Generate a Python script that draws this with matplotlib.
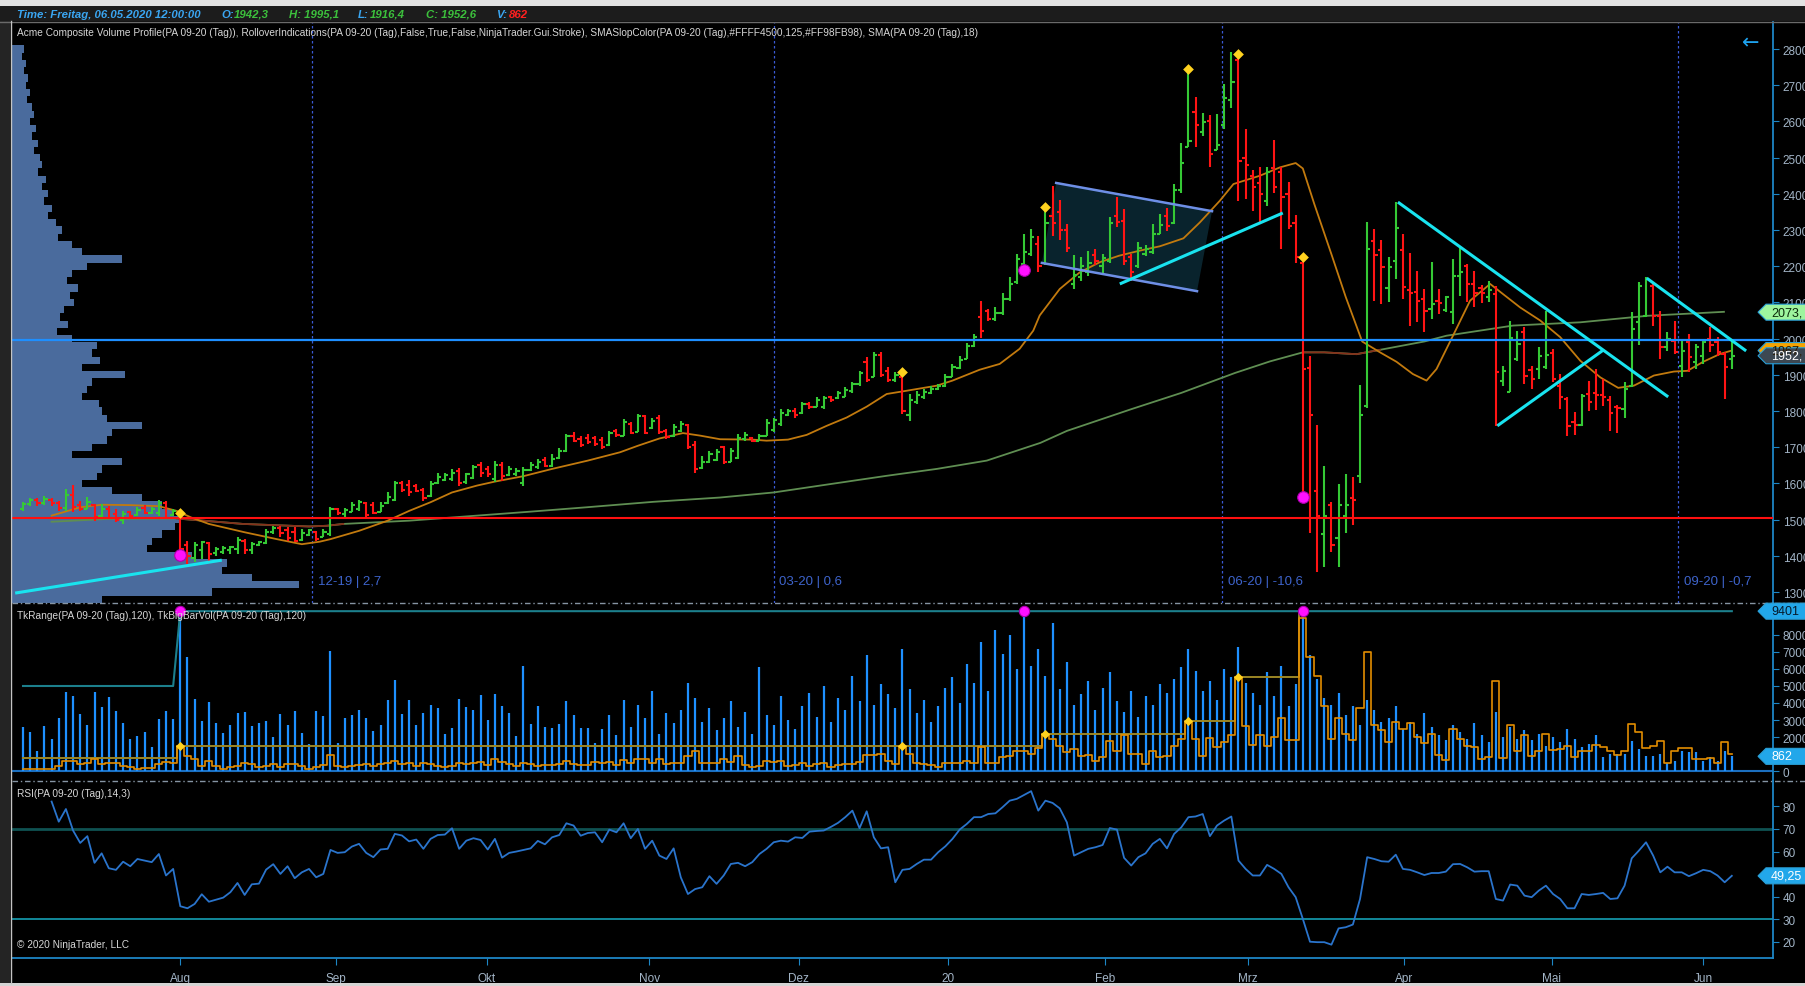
import numpy as np
import matplotlib
matplotlib.use("Agg")
import matplotlib.pyplot as plt
from matplotlib.patches import Polygon, Rectangle
from matplotlib.transforms import IdentityTransform
from matplotlib.lines import Line2D

plt.rcParams['font.family'] = ['Liberation Sans Narrow', 'Liberation Sans', 'DejaVu Sans']

# ---------------- data (daily bars, PA 09-20) ----------------
opens = [1530, 1542, 1555, 1545, 1555, 1545, 1532, 1568, 1540, 1530,
         1540, 1510, 1530, 1515, 1498, 1520, 1512, 1532, 1518, 1518,
         1545, 1512, 1515, 1430, 1395, 1415, 1435, 1408, 1410, 1415,
         1418, 1440, 1415, 1430, 1435, 1465, 1478, 1470, 1465, 1445,
         1458, 1465, 1452, 1460, 1528, 1515, 1522, 1530, 1545, 1540,
         1522, 1545, 1555, 1600, 1595, 1592, 1582, 1565, 1600, 1610,
         1612, 1635, 1605, 1615, 1652, 1640, 1612, 1650, 1622, 1625,
         1600, 1638, 1645, 1665, 1648, 1670, 1690, 1730, 1722, 1725,
         1725, 1720, 1705, 1745, 1732, 1765, 1742, 1785, 1752, 1780,
         1745, 1730, 1745, 1760, 1705, 1642, 1658, 1665, 1700, 1660,
         1670, 1722, 1726, 1718, 1732, 1748, 1765, 1790, 1800, 1795,
         1820, 1812, 1810, 1838, 1835, 1840, 1855, 1875, 1935, 1895,
         1955, 1910, 1885, 1895, 1790, 1825, 1838, 1850, 1862, 1868,
         1895, 1920, 1945, 1980, 2060, 2075, 2055, 2070, 2110, 2155,
         2205, 2235, 2260, 2210, 2340, 2350, 2300, 2150, 2170, 2185,
         2230, 2200, 2215, 2340, 2325, 2225, 2200, 2235, 2240, 2290,
         2340, 2320, 2410, 2530, 2625, 2570, 2600, 2522, 2590, 2660,
         2770, 2500, 2450, 2430, 2380, 2470, 2460, 2400, 2320, 2210,
         1920, 1580, 1460, 1540, 1450, 1510, 1560, 1620, 1815, 2270,
         2245, 2139, 2215, 2246, 2135, 2128, 2110, 2082, 2105, 2080,
         2073, 2174, 2200, 2150, 2140, 2115, 2123, 1884, 1852, 1944,
         2019, 1912, 1916, 1921, 1960, 1870, 1833, 1770, 1761, 1847,
         1850, 1845, 1830, 1810, 1806, 1870, 2045, 2063, 2146, 2063,
         1976, 1994, 1925, 1990, 1936, 1953, 1999, 1990, 1958, 1942.3]
highs = [1548, 1561, 1561, 1566, 1561, 1552, 1584, 1595, 1552, 1563,
         1543, 1543, 1538, 1529, 1525, 1525, 1534, 1540, 1534, 1555,
         1552, 1529, 1517, 1442, 1437, 1442, 1437, 1423, 1428, 1428,
         1451, 1446, 1437, 1442, 1474, 1483, 1483, 1479, 1479, 1474,
         1474, 1469, 1474, 1534, 1531, 1531, 1549, 1555, 1549, 1549,
         1548, 1575, 1607, 1607, 1610, 1598, 1586, 1607, 1629, 1629,
         1640, 1642, 1630, 1651, 1660, 1649, 1663, 1658, 1649, 1642,
         1644, 1658, 1667, 1672, 1681, 1699, 1736, 1743, 1732, 1736,
         1732, 1727, 1745, 1750, 1778, 1769, 1792, 1790, 1782, 1789,
         1750, 1764, 1773, 1764, 1718, 1676, 1690, 1695, 1704, 1699,
         1736, 1741, 1727, 1736, 1778, 1782, 1805, 1805, 1807, 1826,
         1824, 1838, 1842, 1842, 1856, 1865, 1881, 1911, 1948, 1962,
         1964, 1921, 1907, 1897, 1847, 1856, 1861, 1870, 1874, 1902,
         1930, 1951, 1988, 2013, 2105, 2082, 2086, 2125, 2169, 2235,
         2288, 2302, 2283, 2362, 2421, 2383, 2317, 2230, 2225, 2243,
         2248, 2235, 2337, 2391, 2357, 2233, 2268, 2258, 2317, 2344,
         2362, 2426, 2539, 2742, 2668, 2623, 2618, 2620, 2702, 2791,
         2786, 2579, 2465, 2475, 2475, 2549, 2475, 2433, 2342, 2220,
         1952, 1760, 1649, 1548, 1597, 1627, 1617, 1873, 2322, 2303,
         2271, 2225, 2378, 2289, 2237, 2188, 2137, 2211, 2137, 2119,
         2220, 2257, 2206, 2188, 2148, 2160, 2146, 1925, 2050, 2022,
         2031, 1925, 1976, 2077, 1971, 1902, 1838, 1796, 1847, 1884,
         1916, 1888, 1842, 1817, 1879, 2073, 2156, 2169, 2151, 2077,
         2017, 2050, 1999, 2013, 1985, 1994, 2031, 2004, 1962, 1995.1]
lows = [1525, 1538, 1538, 1540, 1538, 1525, 1525, 1520, 1525, 1529,
        1497, 1506, 1502, 1492, 1488, 1506, 1511, 1515, 1515, 1511,
        1502, 1511, 1400, 1377, 1382, 1391, 1386, 1400, 1405, 1405,
        1405, 1405, 1405, 1428, 1433, 1460, 1451, 1442, 1437, 1442,
        1455, 1442, 1451, 1455, 1513, 1506, 1520, 1525, 1506, 1515,
        1520, 1543, 1552, 1575, 1566, 1575, 1552, 1562, 1598, 1607,
        1607, 1594, 1598, 1612, 1617, 1617, 1603, 1607, 1621, 1621,
        1594, 1635, 1640, 1644, 1644, 1667, 1686, 1713, 1700, 1709,
        1704, 1695, 1704, 1727, 1730, 1736, 1741, 1736, 1750, 1736,
        1723, 1727, 1741, 1695, 1630, 1640, 1656, 1663, 1653, 1658,
        1667, 1718, 1713, 1716, 1730, 1741, 1759, 1787, 1782, 1793,
        1805, 1810, 1805, 1824, 1833, 1838, 1851, 1870, 1879, 1893,
        1893, 1879, 1879, 1792, 1773, 1819, 1833, 1847, 1858, 1865,
        1893, 1916, 1944, 1976, 2003, 2049, 2049, 2066, 2105, 2150,
        2199, 2229, 2184, 2204, 2283, 2273, 2238, 2137, 2160, 2174,
        2204, 2179, 2209, 2307, 2204, 2160, 2194, 2229, 2233, 2288,
        2298, 2317, 2401, 2529, 2529, 2559, 2475, 2520, 2579, 2638,
        2381, 2386, 2352, 2322, 2367, 2401, 2248, 2302, 2209, 1563,
        1464, 1355, 1370, 1410, 1370, 1464, 1484, 1602, 1809, 2105,
        2096, 2100, 2165, 2109, 2036, 2045, 2017, 2054, 2068, 2073,
        2040, 2119, 2100, 2086, 2098, 2100, 1759, 1870, 1852, 1939,
        1875, 1861, 1888, 1916, 1879, 1806, 1730, 1734, 1759, 1801,
        1804, 1815, 1746, 1739, 1782, 1865, 1981, 2059, 2036, 1944,
        1967, 1957, 1893, 1907, 1916, 1930, 1962, 1953, 1833, 1916.4]
closes = [1542, 1555, 1545, 1558, 1545, 1532, 1568, 1535, 1530, 1548,
          1508, 1530, 1505, 1500, 1516, 1510, 1526, 1518, 1530, 1545,
          1505, 1525, 1420, 1400, 1430, 1438, 1405, 1420, 1422, 1425,
          1445, 1415, 1432, 1438, 1465, 1478, 1462, 1450, 1442, 1462,
          1470, 1446, 1465, 1528, 1518, 1526, 1540, 1548, 1512, 1518,
          1538, 1562, 1600, 1582, 1575, 1580, 1560, 1598, 1618, 1622,
          1630, 1600, 1625, 1645, 1630, 1625, 1650, 1620, 1640, 1635,
          1638, 1652, 1660, 1648, 1668, 1690, 1730, 1718, 1705, 1715,
          1710, 1700, 1738, 1735, 1770, 1740, 1785, 1740, 1772, 1742,
          1728, 1755, 1765, 1700, 1640, 1658, 1680, 1688, 1660, 1690,
          1725, 1735, 1718, 1730, 1768, 1775, 1795, 1800, 1788, 1818,
          1810, 1830, 1835, 1830, 1850, 1858, 1875, 1905, 1885, 1955,
          1900, 1885, 1900, 1800, 1830, 1845, 1852, 1862, 1868, 1895,
          1922, 1940, 1980, 2005, 2020, 2055, 2070, 2110, 2150, 2220,
          2240, 2280, 2200, 2320, 2320, 2300, 2250, 2175, 2200, 2210,
          2215, 2222, 2320, 2322, 2215, 2185, 2250, 2248, 2290, 2315,
          2310, 2410, 2485, 2545, 2590, 2598, 2510, 2535, 2665, 2710,
          2490, 2480, 2420, 2400, 2460, 2420, 2390, 2310, 2225, 1915,
          1790, 1510, 1510, 1430, 1540, 1540, 1555, 1790, 2248, 2230,
          2197, 2197, 2305, 2142, 2125, 2105, 2077, 2096, 2098, 2114,
          2172, 2185, 2151, 2125, 2125, 2135, 1909, 1911, 2001, 1985,
          1898, 1888, 1953, 1956, 1888, 1838, 1758, 1760, 1842, 1826,
          1843, 1838, 1794, 1807, 1861, 2027, 2146, 2165, 2063, 1976,
          1999, 1962, 1967, 1948, 1976, 1990, 1982, 1962, 1921, 1952.6]

volume = [2570, 2270, 1160, 2630, 1880, 3120, 4630, 4390, 3330, 2720,
          4630, 3740, 4330, 3550, 2800, 1880, 2080, 2270, 1430, 3060,
          3510, 3060, 9401, 6700, 4230, 2960, 4040, 2800, 2230, 2700,
          3410, 3450, 2630, 2820, 2960, 1980, 3330, 2700, 3510, 2230,
          1570, 3510, 3210, 7060, 1670, 3120, 3270, 3570, 3120, 2350,
          2690, 4190, 5370, 3350, 4190, 2720, 3390, 3900, 3680, 2180,
          2510, 4250, 3740, 3570, 4470, 3020, 4510, 3800, 3390, 2060,
          6150, 2780, 3840, 2570, 2510, 2780, 4120, 3270, 2510, 2510,
          1630, 2500, 3300, 2100, 4200, 2600, 3900, 3100, 4700, 2200,
          3400, 2800, 3600, 5200, 4300, 2900, 3700, 2400, 3100, 4100,
          2600, 3500, 2200, 6100, 3300, 2700, 4400, 3000, 2500, 3800,
          4600, 3200, 5000, 2900, 4300, 3600, 5600, 4100, 6800, 3900,
          5100, 4500, 3700, 7200, 4800, 3400, 4200, 2900, 3800, 4900,
          5500, 4000, 6300, 5200, 7600, 4700, 8300, 6900, 8000, 6000,
          9401, 6200, 7200, 5600, 8700, 4800, 6400, 3900, 4500, 5300,
          3600, 4900, 5800, 4100, 3500, 4700, 3200, 4400, 3900, 5100,
          4600, 5400, 6100, 7200, 5900, 4700, 5300, 4200, 6000, 5500,
          7300, 5200, 4600, 3900, 5800, 4400, 6200, 3800, 5100, 9401,
          6800, 5400, 4300, 3900, 4600, 3300, 3800, 2700, 4200, 3600,
          2900, 3100, 3800, 2500, 2900, 2200, 3400, 2600, 2100, 1800,
          2700, 2300, 1900, 2800, 2100, 1700, 3500, 2000, 2600, 1900,
          2400, 1800, 2200, 1500, 2000, 1700, 2500, 1900, 1400, 1600,
          2100, 840, 1000, 1000, 1000, 1790, 1300, 870, 870, 1000,
          450, 600, 1180, 1100, 1100, 600, 840, 600, 1180, 862]

tk_range = [120, 120, 120, 120, 120, 310, 600, 600, 400, 500,
            700, 400, 500, 470, 310, 215, 120, 160, 160, 400,
            550, 500, 1490, 900, 700, 310, 600, 310, 120, 215,
            310, 500, 400, 215, 310, 400, 215, 400, 400, 310,
            120, 215, 350, 960, 310, 215, 310, 350, 400, 310,
            400, 500, 600, 400, 500, 310, 500, 400, 310, 215,
            310, 500, 400, 500, 550, 350, 700, 550, 400, 310,
            500, 400, 310, 350, 350, 400, 600, 400, 350, 350,
            550, 450, 550, 350, 650, 450, 700, 700, 450, 700,
            400, 500, 450, 900, 1200, 500, 450, 450, 700, 550,
            900, 350, 250, 300, 600, 550, 600, 300, 350, 450,
            300, 400, 500, 250, 350, 400, 400, 550, 950, 950,
            1000, 600, 400, 1450, 1000, 500, 400, 350, 250, 500,
            500, 500, 600, 500, 1400, 450, 500, 800, 900, 1150,
            1200, 1000, 1350, 2150, 1900, 1500, 1100, 1300, 900, 950,
            600, 800, 1750, 1150, 2100, 1000, 1000, 400, 1150, 800,
            900, 1500, 1900, 2900, 1900, 900, 1950, 1400, 1700, 2100,
            5500, 2650, 1550, 2100, 1500, 2000, 3100, 1800, 1800, 9000,
            6700, 5600, 3800, 1900, 3100, 2200, 1800, 3700, 7000, 2700,
            2400, 1700, 2900, 2500, 2800, 2000, 1650, 2200, 950, 650,
            2500, 1900, 1450, 1400, 700, 800, 5300, 750, 2700, 1150,
            2100, 900, 1200, 2200, 1250, 1300, 1500, 850, 1200, 1150,
            1550, 1400, 1150, 930, 1180, 2780, 2300, 1350, 1500, 1760,
            500, 1150, 1350, 1350, 730, 690, 780, 470, 1720, 1000]

# big-bar level (step, ends at the crash bar) and the 120-bar volume ceiling
big_bar_start = [0, 22, 143, 163, 170, 179]
big_bar_level = [745, 1490, 2150, 2950, 5500, 9401]
big_bar_end = 179
big_bar_marks = [22, 123, 143, 163, 170]
vol_max_x = [0, 21, 22, 239]
vol_max_v = [5000, 5000, 9401, 9401]
vol_top_marks = [22, 140, 179]

rsi_first = 4
rsi = [82.1, 73.2, 78.8, 69.3, 63.8, 66.8, 55, 59.2, 52.6, 51.9,
       55.5, 53.5, 56.7, 56, 55.3, 58.9, 49.4, 52.3, 35.8, 34.9,
       36.8, 41.1, 37.8, 38.7, 39.6, 42, 46.1, 40.8, 45.5, 45.8,
       52, 54.4, 50.1, 53.5, 48.2, 50.8, 52.3, 48.6, 50.1, 60.7,
       59.4, 59.7, 62.2, 63.4, 59.4, 57.5, 60.9, 61.2, 67.8, 67.1,
       64.5, 65.3, 61.2, 65.6, 67.3, 67.5, 70.3, 61.2, 64.8, 65.9,
       65.1, 60.9, 65.6, 57.3, 59.4, 60, 60.7, 61.4, 64.7, 63.2,
       66.3, 67.3, 72.5, 71.5, 67, 68.2, 68.5, 64.1, 69.7, 68.5,
       72.5, 65.9, 70, 61.2, 64.8, 58.2, 56.7, 61.4, 48.6, 41.2,
       43.4, 44.2, 49.1, 45.7, 49.4, 54.5, 55, 53.5, 55.3, 58.9,
       61.2, 64.1, 64.8, 64.4, 66.3, 66, 68.8, 69.1, 69.3, 70.9,
       72.7, 75.2, 78.1, 70.3, 77.8, 66.3, 61.4, 61.9, 46.4, 51.9,
       52.3, 54.5, 56.4, 56.4, 59.7, 62.3, 65.6, 69.7, 72.2, 75.2,
       75.2, 76.6, 76.9, 79.6, 82.5, 83.3, 85, 86.7, 78.1, 82.5,
       81.5, 79.1, 72.9, 58.2, 59.7, 61.2, 61.9, 62.9, 70.4, 69.7,
       57.2, 53.8, 57.5, 59.2, 63.4, 65.6, 61.4, 67.8, 70.7, 75.2,
       75.5, 76.6, 66.8, 71.5, 73.7, 75.5, 56, 52.3, 49.4, 49.4,
       54.1, 52.3, 50.1, 44.2, 39.8, 30.2, 20.1, 19.9, 19.9, 18.8,
       26, 26.5, 27.7, 39, 57.5, 56.7, 55.7, 55.5, 58.6, 52.3,
       51.9, 50.8, 49.6, 50.5, 50.5, 51.1, 54.4, 54.5, 53, 51.1,
       51.3, 51.3, 39, 38.3, 45.4, 44.9, 40.5, 39.8, 42.7, 44.9,
       41.2, 39, 34.9, 34.9, 41.2, 40.8, 41.2, 41.7, 39, 39.3,
       44.9, 57, 60.4, 64.1, 58.2, 50.8, 53.3, 50.8, 50.8, 49.1,
       50.4, 51.9, 51.3, 49.4, 46.4, 49.25]

# SMA(18)
sma18_x = [4, 8, 11, 15, 19, 21.5, 23.5, 26, 31, 35.5, 39, 41.5, 43, 47, 51, 54, 57,
           60, 63.5, 66, 70, 74, 79, 83.5, 86, 89, 92.3, 94.7, 97.5, 102, 104, 107,
           109.6, 112.4, 115.2, 118, 120.8, 123.6, 127.8, 130, 133.8, 136.6, 139.4,
           141.3, 142.2, 145, 147.8, 150.6, 153.3, 156.2, 159, 162.3, 164.6, 167.4,
           169.3, 173, 175.8, 178, 179, 180.6, 183, 185, 187.3, 189.8, 192.1, 194.4,
           196.3, 197.7, 200, 202.4, 205.2, 207, 209.4, 212.2, 215, 217.8, 220.6,
           223.1, 225.3, 228.1, 230.9, 232.8, 235, 237.4, 239]
sma18_v = [1511, 1534, 1541, 1540, 1537, 1524, 1506, 1488, 1465, 1446, 1432, 1439, 1446,
           1469, 1497, 1524, 1548, 1575, 1594, 1605, 1620, 1640, 1663, 1686, 1704, 1724,
           1739, 1732, 1722, 1721, 1718, 1721, 1734, 1759, 1782, 1812, 1847, 1856, 1870,
           1884, 1914, 1930, 1972, 2022, 2064, 2137, 2183, 2211, 2229, 2243, 2255, 2277,
           2321, 2381, 2427, 2450, 2473, 2485, 2470, 2372, 2233, 2115, 1992, 1962, 1936,
           1902, 1884, 1916, 2008, 2105, 2151, 2123, 2086, 2050, 2004, 1939, 1893, 1864,
           1870, 1898, 1909, 1911, 1936, 1958, 1967]

# SMASlopColor(125); falling stretches drawn red-brown
sma125_x = [4, 12, 21.5, 30.8, 40, 42.5, 44.8, 54, 63.5, 71, 78.8, 88.1, 97.5, 105,
            111.5, 120.8, 127.8, 134.8, 142.3, 146, 155, 162, 169.5, 174.4, 179, 182,
            186.5, 189.8, 196, 199.1, 208.4, 217.8, 227.2, 237.9]
sma125_v = [1494, 1502, 1503, 1488, 1481, 1483, 1488, 1497, 1511, 1522, 1534, 1549, 1561,
            1575, 1594, 1621, 1640, 1663, 1712, 1745, 1805, 1850, 1905, 1937, 1962, 1962,
            1957, 1969, 1992, 2008, 2036, 2045, 2063, 2074]
sma125_falling = [(21.5, 44.8), (179, 189.8)]

# composite volume profile: price bins and relative volume
profile_price = list(range(1280, 2801, 20))
profile_vol = [90, 200, 287, 240, 210, 215, 180, 135, 140, 150, 163, 167, 160, 150, 130,
               100, 70, 85, 90, 110, 60, 80, 95, 100, 130, 95, 90, 87, 70, 75, 80, 113,
               70, 88, 80, 85, 60, 45, 56, 48, 52, 62, 58, 66, 55, 60, 75, 110, 70, 60,
               46, 50, 44, 36, 40, 32, 36, 30, 34, 26, 30, 28, 22, 26, 20, 24, 18, 22,
               20, 15, 18, 14, 16, 12, 14, 10, 12]

# markers
peak_marks_x = [22, 123, 143, 163, 170, 179]
peak_marks_p = [1517, 1908, 2364, 2745, 2787, 2225]
dot_marks_x = [22, 140, 179]
dot_marks_p = [1402, 2190, 1563]

# drawn objects
trend_lines = [((-1.1, 1297), (27.8, 1388)),
               ((153.4, 2151), (176.2, 2347)),
               ((192.3, 2377), (230.1, 1839)),
               ((206.2, 1759), (221.0, 1968)),
               ((227.1, 2167), (241.0, 1966))]
flag_box = [(144.5, 2430), (166.3, 2352), (164.2, 2131), (142.5, 2209)]

rollover_x = [40.4, 105.0, 167.7, 231.5]
rollover_lbl = ['12-19 | 2,7', '03-20 | 0,6', '06-20 | -10,6', '09-20 | -0,7']

month_pos = [22, 43.8, 64.9, 87.6, 108.5, 129.4, 151.3, 171.3, 193.1, 213.8, 235]
month_lbl = ['Aug', 'Sep', 'Okt', 'Nov', 'Dez', '20', 'Feb', 'Mrz', 'Apr', 'Mai', 'Jun']

# ---------------- figure ----------------
W, H = 1806, 987
fig = plt.figure(figsize=(W / 100, H / 100), dpi=100, facecolor='black')
ID = IdentityTransform()


def rect(x0, y0, x1, y1):
    return [x0 / W, 1 - y1 / H, (x1 - x0) / W, (y1 - y0) / H]


ax = fig.add_axes(rect(12, 23, 1773, 604))
axv = fig.add_axes(rect(12, 604, 1773, 782), sharex=ax)
axr = fig.add_axes(rect(12, 782, 1773, 959), sharex=ax)

AXC = '#1d86c6'
LBL = '#a3b5c7'
for a in (ax, axv, axr):
    a.set_facecolor('black')
    for s in ('top', 'left', 'bottom'):
        a.spines[s].set_visible(False)
    a.spines['right'].set_color(AXC)
    a.spines['right'].set_linewidth(1.3)
    a.yaxis.tick_right()
    a.tick_params(axis='y', colors=AXC, labelcolor=LBL, length=4, labelsize=8.5, pad=3)
    a.tick_params(axis='x', bottom=False, labelbottom=False)

ax.set_xlim(-1.54, 244.76)
ax.set_ylim(1269.6, 2874.6)
axv.set_ylim(-588, 9882)
axr.set_ylim(12.9, 91.2)

# price panel ---------------------------------------------------------
x = np.arange(len(closes))
o, hi, lo, c = map(np.array, (opens, highs, lows, closes))
cols = np.where(c >= o, '#35c935', '#ff1414')

ax.barh(profile_price, np.array(profile_vol) / 7.15, height=20, left=-1.54,
        color='#4a6b9d', edgecolor='none', zorder=0.5)

ax.add_patch(Polygon(flag_box, closed=True, fc='#0a2630', ec='none', alpha=0.95, zorder=1))
ax.plot([flag_box[0][0], flag_box[1][0]], [flag_box[0][1], flag_box[1][1]], color='#6e8fe6', lw=1.8, zorder=4)
ax.plot([flag_box[3][0], flag_box[2][0]], [flag_box[3][1], flag_box[2][1]], color='#6e8fe6', lw=1.8, zorder=4)

for rx, rl in zip(rollover_x, rollover_lbl):
    ax.axvline(rx, color='#3a5ad6', lw=0.9, ls=(0, (2, 2)), zorder=1)
    ax.text(rx + 0.8, 1330, rl, color='#3e64cc', fontsize=9.5, va='center', ha='left')

ax.plot(sma125_x, sma125_v, color='#5f8e52', lw=1.3, zorder=2)
for a0, a1 in sma125_falling:
    sx = [v for v in sma125_x if a0 <= v <= a1]
    sv = [sma125_v[i] for i, v in enumerate(sma125_x) if a0 <= v <= a1]
    ax.plot(sx, sv, color='#85301a', lw=1.3, zorder=2.1)
ax.plot(sma18_x, sma18_v, color='#c27a0e', lw=1.3, zorder=2.2)

ax.vlines(x, lo, hi, colors=cols, lw=1.5, zorder=3)
ax.hlines(o, x - 0.45, x, colors=cols, lw=1.5, zorder=3)
ax.hlines(c, x, x + 0.45, colors=cols, lw=1.5, zorder=3)

ax.axhline(1505, color='#ff1010', lw=1.5, zorder=3.5)
ax.axhline(1996, color='#1e8fff', lw=1.6, zorder=3.5)

for (x0, p0), (x1, p1) in trend_lines:
    ax.plot([x0, x1], [p0, p1], color='#19e3ef', lw=2.2, zorder=4, solid_capstyle='butt')

ax.scatter(peak_marks_x, peak_marks_p, marker='D', s=30, color='#ffd21f', zorder=5, lw=0)
ax.scatter(dot_marks_x, dot_marks_p, marker='o', s=70, color='#ff10ff', edgecolor='#b000b0', lw=0.8, zorder=5)

ax.set_yticks(range(1300, 2801, 100))
ax.set_yticklabels([f'{v},0' for v in range(1300, 2801, 100)])

# volume panel --------------------------------------------------------
axv.axhline(0, color='#1b6fbf', lw=1.5, zorder=1)
axv.vlines(x, 0, volume, colors='#1e90ff', lw=1.6, zorder=2)
bb = np.repeat(big_bar_level, np.diff(big_bar_start + [len(closes)]))
axv.step(x[:big_bar_end + 1], bb[:big_bar_end + 1], where='mid', color='#9c8624', lw=1.4, zorder=2.5)
axv.plot(vol_max_x, vol_max_v, color='#1c7f8c', lw=1.5, zorder=2.6)
axv.step(x, tk_range, where='mid', color='#e38d00', lw=1.2, zorder=3)
axv.scatter(big_bar_marks, [bb[i] for i in big_bar_marks], marker='D', s=22, color='#ffd21f', lw=0, zorder=4)
axv.scatter(vol_top_marks, [volume[i] for i in vol_top_marks], marker='o', s=55, color='#ff10ff', edgecolor='#b000b0', lw=0.8, zorder=5)
vt = list(range(0, 9001, 1000))
axv.set_yticks(vt)
axv.set_yticklabels(['' if v in (1000, 9000) else str(v) for v in vt])

# RSI panel -----------------------------------------------------------
axr.axhline(70, color='#0f5252', lw=2)
axr.axhline(30, color='#12889a', lw=1.4)
axr.plot(np.arange(rsi_first, rsi_first + len(rsi)), rsi, color='#2a74cc', lw=1.3)
rt = list(range(20, 81, 10))
axr.set_yticks(rt)
axr.set_yticklabels(['' if v == 50 else str(v) for v in rt])
axr.spines['bottom'].set_visible(True)
axr.spines['bottom'].set_color(AXC)
axr.spines['bottom'].set_linewidth(1.3)
axr.set_xticks(month_pos)
axr.set_xticklabels(month_lbl)
axr.tick_params(axis='x', bottom=True, labelbottom=True, colors=AXC, labelcolor=LBL,
                length=5, labelsize=8.5, pad=5)

# value tags on the right ---------------------------------------------
def tag(a, val, text, fc, tc):
    y = a.transData.transform((0, val))[1]
    x0 = 1758
    pts = [(x0, y), (x0 + 8, y + 8), (W + 5, y + 8), (W + 5, y - 8), (x0 + 8, y - 8)]
    fig.add_artist(Polygon(pts, closed=True, transform=ID, fc=fc, ec='#2a9fd6', lw=0.8, zorder=20))
    fig.text(x0 + 13, y, text, transform=ID, color=tc, fontsize=9, va='center', ha='left', zorder=21)


tag(ax, 2073, '2073,', '#9ef59e', '#0b2a0b')
tag(ax, 1967, '1967,', '#f5a300', '#2a1a00')
tag(ax, 1952.6, '1952,', '#3d4852', '#ffffff')
tag(axv, 9401, '9401', '#22a7ea', '#061a2a')
tag(axv, 862, '862', '#22a7ea', '#ffffff')
tag(axr, 49.25, '49,25', '#22a7ea', '#ffffff')

# window chrome -------------------------------------------------------
fig.add_artist(Rectangle((0, H - 7), W, 7, transform=ID, fc='#e2e2e2', ec='none', zorder=30))
fig.add_artist(Rectangle((0, H - 22), W, 15, transform=ID, fc='#1c1c1c', ec='none', zorder=30))
fig.add_artist(Line2D([0, W], [H - 22.5, H - 22.5], transform=ID, color='#6a6a6a', lw=1, zorder=31))
fig.add_artist(Rectangle((0, 0), 10, H - 22, transform=ID, fc='#242424', ec='none', zorder=30))
fig.add_artist(Line2D([11, 11], [3, H - 22], transform=ID, color='#c4c4c4', lw=1, zorder=31))
fig.add_artist(Rectangle((0, 0), W, 3, transform=ID, fc='#d4d4d4', ec='none', zorder=30))
for ys in (604, 782):
    fig.add_artist(Line2D([12, W], [H - ys, H - ys], transform=ID, color='#8594a3', lw=1,
                          ls=(0, (4, 2, 1, 2)), zorder=15))

hdr = [(17, 'Time: Freitag, 06.05.2020 12:00:00', '#3aa6f2'),
       (221, 'O:', '#3aa6f2'), (234, '1942,3', '#3cc13c'),
       (289, 'H: 1995,1', '#3cc13c'),
       (358, 'L:', '#3aa6f2'), (370, '1916,4', '#3cc13c'),
       (426, 'C: 1952,6', '#3cc13c'),
       (496, 'V:', '#3aa6f2'), (509, '862', '#ff2020')]
for hx, ht, hc in hdr:
    fig.text(hx, H - 15, ht, transform=ID, color=hc, fontsize=8.2, fontweight='bold',
             style='italic', va='center', ha='left', zorder=32)

fs_lbl = 7.3
fig.text(17, H - 33, 'Acme Composite Volume Profile(PA 09-20 (Tag)), RolloverIndications(PA 09-20 (Tag),'
         'False,True,False,NinjaTrader.Gui.Stroke), SMASlopColor(PA 09-20 (Tag),#FFFF4500,125,#FF98FB98), '
         'SMA(PA 09-20 (Tag),18)', transform=ID, color='#d6d6d6', fontsize=fs_lbl, va='center', zorder=16)
fig.text(17, H - 616, 'TkRange(PA 09-20 (Tag),120), TkBigBarVol(PA 09-20 (Tag),120)', transform=ID,
         color='#d6d6d6', fontsize=fs_lbl, va='center', zorder=16)
fig.text(17, H - 794, 'RSI(PA 09-20 (Tag),14,3)', transform=ID, color='#d6d6d6', fontsize=fs_lbl,
         va='center', zorder=16)
fig.text(17, H - 945, '\u00a9 2020 NinjaTrader, LLC', transform=ID, color='#d6d6d6', fontsize=fs_lbl,
         va='center', zorder=16)
fig.text(1751, H - 43, '\u2190', transform=ID, color='#1ea2ee', fontsize=15, family='DejaVu Sans',
         va='center', ha='center', zorder=16)

fig.savefig('out.png', dpi=100, facecolor='black')
